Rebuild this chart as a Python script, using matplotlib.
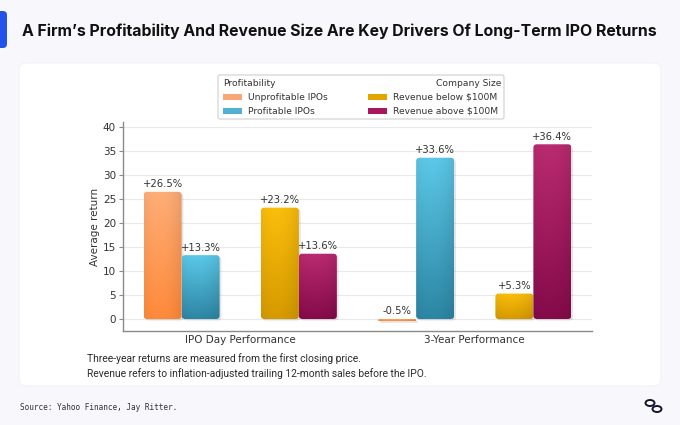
import matplotlib
matplotlib.use("Agg")
import matplotlib.pyplot as plt
import numpy as np
from matplotlib.patches import FancyBboxPatch, Rectangle, Ellipse
from matplotlib import font_manager
from matplotlib.colors import to_rgba

# ---------------- data ----------------
groups = ["IPO Day Performance", "3-Year Performance"]
unprofitable = [26.5, -0.5]
profitable = [13.3, 33.6]
rev_below = [23.2, 5.3]
rev_above = [13.6, 36.4]
series_names = ["Unprofitable IPOs", "Profitable IPOs",
                "Revenue below $100M", "Revenue above $100M"]
legend_titles = ["Profitability", "Company Size"]
yticks = [0, 5, 10, 15, 20, 25, 30, 35, 40]
title = "A Firm\u2019s Profitability And Revenue Size Are Key Drivers Of Long-Term IPO Returns"
notes = ["Three-year returns are measured from the first closing price.",
         "Revenue refers to inflation-adjusted trailing 12-month sales before the IPO."]
source = "Source: Yahoo Finance, Jay Ritter."

# ---------------- style ----------------
W, H = 680, 425
installed = {f.name for f in font_manager.fontManager.ttflist}
if "Liberation Sans Narrow" in installed:
    narrow = "Liberation Sans Narrow"
elif "Roboto" in installed:
    narrow = "Roboto"
else:
    narrow = "DejaVu Sans"
title_font = "Inter" if "Inter" in installed else "Roboto"

grad_top = ["#ffae78", "#5cc8e8", "#fbbe0c", "#ba2b70"]
grad_bot = ["#ff8a3a", "#2c86a4", "#d69a00", "#850a4b"]
legend_cols = ["#f9a677", "#52b0d2", "#e3a600", "#a8185c"]
txt = "#333333"

fig = plt.figure(figsize=(W / 100, H / 100), dpi=100)
fig.patch.set_facecolor("#f7f7fc")
renderer = fig.canvas.get_renderer()


def fx(x):
    return x / W


def fy(y):
    return 1 - y / H


def fit_text(t, target_px):
    t.set_fontsize(10)
    w = t.get_window_extent(renderer).width
    t.set_fontsize(10 * target_px / w)


# card
card = FancyBboxPatch((fx(19), fy(386)), (661 - 19) / W, (386 - 63) / H,
                      boxstyle="round,pad=0,rounding_size=0.011",
                      mutation_aspect=W / H, transform=fig.transFigure,
                      fc="white", ec="#efeff5", lw=0.6, zorder=0)
fig.add_artist(card)

# accent bar
acc = FancyBboxPatch((fx(-8), fy(48)), 15 / W, 37 / H,
                     boxstyle="round,pad=0,rounding_size=0.006",
                     mutation_aspect=W / H, transform=fig.transFigure,
                     fc="#2352e8", ec="none", zorder=1)
fig.add_artist(acc)

# title
t = fig.text(fx(22), fy(31), title, fontsize=12, fontweight="bold",
             family=title_font, color="#111111", va="center", ha="left")
fit_text(t, 635)

# ---------------- axes ----------------
ax_l, ax_r, ax_b, ax_t = 123, 592, 331, 122.2
ax = fig.add_axes([fx(ax_l), fy(ax_b), (ax_r - ax_l) / W, (ax_b - ax_t) / H])
ax.set_facecolor("white")
xlim = (-0.5, 1.5)
ylim = (-2.5, 41)
x_ppu = (ax_r - ax_l) / (xlim[1] - xlim[0])
y_ppu = (ax_b - ax_t) / (ylim[1] - ylim[0])
aspect = x_ppu / y_ppu

x = np.arange(len(groups))
w = 0.162
series = [unprofitable, profitable, rev_below, rev_above]
offsets = [-0.25 - w / 2, -0.25 + w / 2, 0.25 - w / 2, 0.25 + w / 2]


def gradient_bar(rect, ctop, cbot):
    bx, by = rect.get_x(), rect.get_y()
    bw, bh = rect.get_width(), rect.get_height()
    y0, hh = min(by, by + bh), abs(bh)
    r = min(3.5 / x_ppu, hh / aspect / 2.0)
    # shadow
    sh = FancyBboxPatch((bx + 1.8 / x_ppu, y0 - 1.5 / y_ppu), bw, hh,
                        boxstyle=f"round,pad=0,rounding_size={r}",
                        mutation_aspect=aspect, fc="#000000", ec="none",
                        alpha=0.10, zorder=2)
    ax.add_patch(sh)
    p = FancyBboxPatch((bx, y0), bw, hh,
                       boxstyle=f"round,pad=0,rounding_size={r}",
                       mutation_aspect=aspect, fc="none", ec="none", zorder=3)
    ax.add_patch(p)
    t_ = np.linspace(0, 1, 128)[:, None]
    c0 = np.array(to_rgba(cbot))
    c1 = np.array(to_rgba(ctop))
    arr = c0[None, None, :] * (1 - t_[:, :, None]) + c1[None, None, :] * t_[:, :, None]
    hx = np.linspace(0, 1, 32)[None, :, None]
    shade = 1 - 0.06 * (hx - 0.4) ** 2 * 4
    arr = np.repeat(arr, 32, axis=1)
    arr[..., :3] = np.clip(arr[..., :3] * shade, 0, 1)
    im = ax.imshow(arr, extent=[bx, bx + bw, y0, y0 + hh], origin="lower",
                   aspect="auto", interpolation="bilinear", zorder=3)
    im.set_clip_path(p)


for i, vals in enumerate(series):
    bars = ax.bar(x + offsets[i], vals, width=w, color="none", zorder=3)
    for rect, v in zip(bars, vals):
        gradient_bar(rect, grad_top[i], grad_bot[i])
        ax.text(rect.get_x() + rect.get_width() / 2, max(v, 0) + 0.55,
                f"{v:+.1f}%", ha="center", va="bottom", fontsize=7.2,
                color=txt, zorder=5)

ax.set_xlim(*xlim)
ax.set_ylim(*ylim)
ax.set_yticks(yticks)
ax.set_xticks(x)
ax.set_xticklabels(groups)
ax.grid(axis="y", color="#e9e9e9", lw=0.8, zorder=0)
ax.set_axisbelow(True)
for s in ["top", "right"]:
    ax.spines[s].set_visible(False)
for s in ["left", "bottom"]:
    ax.spines[s].set_color("#8a8a8a")
    ax.spines[s].set_linewidth(1.0)
ax.tick_params(axis="y", length=3, color="#8a8a8a", labelsize=7.5,
               labelcolor=txt, pad=2)
ax.tick_params(axis="x", length=0, labelsize=7.5, labelcolor=txt, pad=3)
ax.set_ylabel("Average return", fontsize=7.5, color=txt, labelpad=2)

# ---------------- legend (manual) ----------------
lb = FancyBboxPatch((fx(218), fy(119)), (504 - 218) / W, (119 - 75) / H,
                    boxstyle="round,pad=0,rounding_size=0.003",
                    mutation_aspect=W / H, transform=fig.transFigure,
                    fc="white", ec="#cfcfcf", lw=0.8, zorder=4)
fig.add_artist(lb)
lfs = 6.6
fig.text(fx(223), fy(84), legend_titles[0], fontsize=lfs, color=txt,
         ha="left", va="center", zorder=5)
fig.text(fx(501), fy(84), legend_titles[1], fontsize=lfs, color=txt,
         ha="right", va="center", zorder=5)
rows = [97, 111, 97, 111]
pcol = [223, 223, 368, 368]
for i, name in enumerate(series_names):
    fig.add_artist(Rectangle((fx(pcol[i]), fy(rows[i] + 3)), 19 / W, 6 / H,
                             transform=fig.transFigure, fc=legend_cols[i],
                             ec="none", zorder=5))
    fig.text(fx(pcol[i] + 25), fy(rows[i]), name, fontsize=lfs, color=txt,
             ha="left", va="center", zorder=5)

# ---------------- notes & source ----------------
n1 = fig.text(fx(87), fy(359), notes[0], fontsize=8, family=narrow,
              color="#2a2a2a", ha="left", va="center")
n2 = fig.text(fx(87), fy(374), notes[1], fontsize=8, family=narrow,
              color="#2a2a2a", ha="left", va="center")
fit_text(n2, 340)
n1.set_fontsize(n2.get_fontsize())
fig.text(fx(20), fy(407), source, fontsize=5.6, family="DejaVu Sans Mono",
         color="#333333", ha="left", va="center")

# small logo
for cx, cy in [(650, 403), (657, 409)]:
    fig.add_artist(Ellipse((fx(cx), fy(cy)), 9 / W, 6 / H, angle=0,
                           transform=fig.transFigure, fc="white",
                           ec="#141432", lw=1.4, zorder=5))

fig.savefig("out.png", dpi=100, facecolor=fig.get_facecolor())
